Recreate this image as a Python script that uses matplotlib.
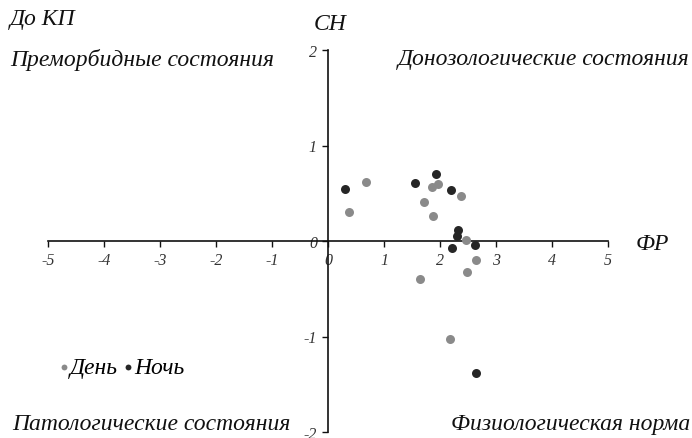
import matplotlib.pyplot as plt

plt.rcParams['axes.unicode_minus'] = False

# День (серые точки)
day_x = [0.38, 0.68, 1.65, 1.71, 1.85, 1.88, 1.96, 2.18, 2.38, 2.46, 2.48, 2.65]
day_y = [0.30, 0.62, -0.40, 0.41, 0.57, 0.26, 0.60, -1.03, 0.47, 0.01, -0.32, -0.20]
# Ночь (тёмные точки)
night_x = [0.30, 1.55, 1.93, 2.19, 2.21, 2.31, 2.33, 2.63, 2.65]
night_y = [0.54, 0.61, 0.70, 0.53, -0.07, 0.05, 0.11, -0.04, -1.38]

xticks = [-5, -4, -3, -2, -1, 0, 1, 2, 3, 4, 5]
yticks = [-2, -1, 0, 1, 2]

serif = 'Liberation Serif'

fig = plt.figure(figsize=(6.92, 4.39), dpi=100)
ax = fig.add_axes([48 / 692, 6 / 439, 560 / 692, 382 / 439])

ax.scatter(day_x, day_y, s=42, color='#8a8a8a', label='День', zorder=3, linewidths=0)
ax.scatter(night_x, night_y, s=42, color='#262626', label='Ночь', zorder=3, linewidths=0)

ax.set_xlim(-5, 5)
ax.set_ylim(-2, 2)
ax.spines['left'].set_position('zero')
ax.spines['bottom'].set_position('zero')
ax.spines['top'].set_visible(False)
ax.spines['right'].set_visible(False)
for s in ['left', 'bottom']:
    ax.spines[s].set_linewidth(1.2)
    ax.spines[s].set_color('#111111')
ax.set_xticks(xticks)
ax.set_yticks(yticks)
ax.tick_params(length=4, width=1, color='#111111', labelsize=11.5, labelcolor='#333333', pad=4)
for lab in ax.get_xticklabels() + ax.get_yticklabels():
    lab.set_fontfamily(serif)
    lab.set_fontstyle('italic')

tk = dict(fontfamily=serif, fontstyle='italic', fontsize=17, color='#111111')
fig.text(10 / 692, 1 - 20 / 439, 'До КП', ha='left', va='center', **tk)
fig.text(10 / 692, 1 - 60 / 439, 'Преморбидные состояния', ha='left', va='center', **tk)
fig.text(690 / 692, 1 - 60 / 439, 'Донозологические состояния', ha='right', va='center', **tk)
fig.text(12 / 692, 1 - 425 / 439, 'Патологические состояния', ha='left', va='center', **tk)
fig.text(690 / 692, 1 - 425 / 439, 'Физиологическая норма', ha='right', va='center', **tk)
fig.text(330 / 692, 1 - 24 / 439, 'СН', ha='center', va='center', **tk)
fig.text(652 / 692, 1 - 245 / 439, 'ФР', ha='center', va='center', **tk)

leg = ax.legend(loc='center left', bbox_to_anchor=(60 / 692, 1 - 368 / 439),
                bbox_transform=fig.transFigure, ncol=2, frameon=False,
                handlelength=0.3, handletextpad=0.1, columnspacing=0.3,
                markerscale=0.65, borderaxespad=0, borderpad=0,
                prop={'family': serif, 'style': 'italic', 'size': 17})

fig.savefig('out.png', dpi=100)
